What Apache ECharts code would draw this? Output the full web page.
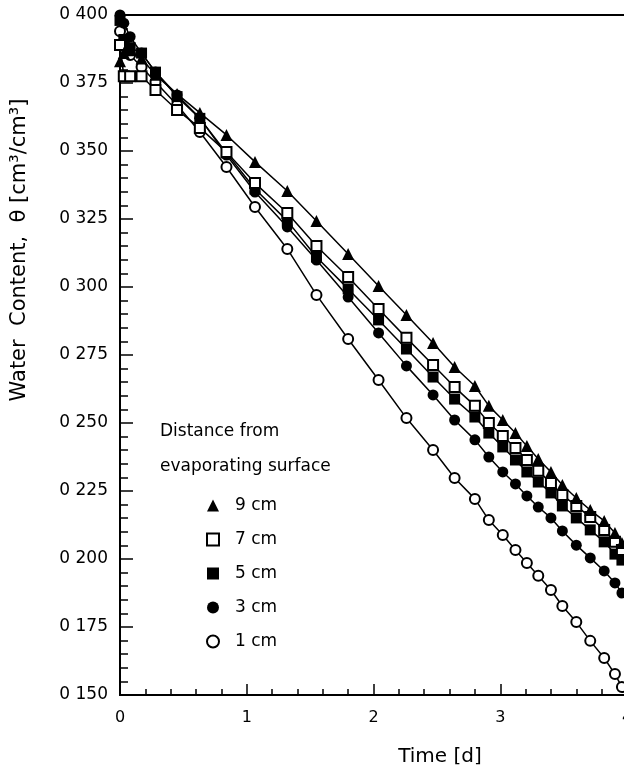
<!DOCTYPE html>
<html>
<head>
<meta charset="utf-8">
<script src="https://cdn.jsdelivr.net/npm/echarts@6/dist/echarts.min.js"></script>
<style>
  html, body { margin: 0; padding: 0; background: #fff; }
  #main { width: 624px; height: 768px; }
</style>
</head>
<body>
<div id="main"></div>
<script>
// sampling times [d], shared by all depths
var times = [0, 0.03, 0.08, 0.17, 0.28, 0.45, 0.63, 0.84, 1.065, 1.32, 1.55, 1.80, 2.04, 2.26, 2.47,
             2.64, 2.80, 2.91, 3.02, 3.12, 3.21, 3.30, 3.40, 3.49, 3.60, 3.71, 3.82, 3.905, 3.96];

// water content [cm3/cm3] at each distance from the evaporating surface
var w9cm = [0.383, 0.386, 0.387, 0.384, 0.378, 0.371, 0.364, 0.3559, 0.3460, 0.3353, 0.3243, 0.3121, 0.3004, 0.2897, 0.2794,
            0.2706, 0.2636, 0.2563, 0.2511, 0.2463, 0.2415, 0.2368, 0.2320, 0.2272, 0.2224, 0.2180, 0.2140, 0.2096, 0.2059];
var w7cm = [0.389, 0.3775, 0.3775, 0.3775, 0.3724, 0.3651, 0.3585, 0.3496, 0.3382, 0.3272, 0.3151, 0.3037, 0.2919, 0.2813, 0.2713,
            0.2632, 0.2563, 0.2500, 0.2452, 0.2408, 0.2364, 0.2324, 0.2279, 0.2235, 0.2195, 0.2154, 0.2107, 0.2063, 0.2033];
var w5cm = [0.398, 0.391, 0.388, 0.386, 0.379, 0.370, 0.362, 0.3493, 0.3360, 0.3243, 0.3110, 0.2993, 0.2879, 0.2772, 0.2669,
            0.2588, 0.2522, 0.2463, 0.2412, 0.2364, 0.2320, 0.2283, 0.2243, 0.2195, 0.2151, 0.2107, 0.2063, 0.2018, 0.1996];
var w3cm = [0.400, 0.397, 0.392, 0.386, 0.379, 0.3706, 0.3621, 0.3485, 0.3349, 0.3221, 0.3099, 0.2963, 0.2831, 0.2710, 0.2603,
            0.2511, 0.2438, 0.2375, 0.2320, 0.2276, 0.2232, 0.2191, 0.2151, 0.2103, 0.2051, 0.2004, 0.1956, 0.1912, 0.1875];
var w1cm = [0.394, 0.3897, 0.3853, 0.3809, 0.3754, 0.3669, 0.3570, 0.3441, 0.3294, 0.3140, 0.2971, 0.2809, 0.2658, 0.2518, 0.2401,
            0.2298, 0.2221, 0.2143, 0.2088, 0.2033, 0.1985, 0.1938, 0.1886, 0.1827, 0.1768, 0.1699, 0.1636, 0.1577, 0.1529];

var depthNames = ['9 cm', '7 cm', '5 cm', '3 cm', '1 cm'];
var FONT = '"DejaVu Sans", sans-serif';

//pair times with values
function toPairs(values) {
    var list = [];
    for (var i = 0; i < times.length; i++) {
        list.push([times[i], values[i]]);
    }
    return list;
}

//make one line series
function makeSeries(name, values, symbol, size, open) {
    return {
        name: name,
        type: 'line',
        data: toPairs(values),
        symbol: symbol,
        symbolSize: size,
        showAllSymbol: true,
        lineStyle: { color: '#000', width: 1.5 },
        itemStyle: open ? { color: '#fff', borderColor: '#000', borderWidth: 2 }
                        : { color: '#000', borderColor: '#000', borderWidth: 0 },
        emphasis: { disabled: true }
    };
}

var chart = echarts.init(document.getElementById('main'));

var option = {
    animation: false,
    backgroundColor: '#fff',
    grid: {
        left: 120, top: 15, bottom: 73, right: -3,
        outerBoundsMode: 'none', containLabel: false,
        show: true, borderColor: '#000', borderWidth: 1.8, backgroundColor: 'transparent'
    },
    xAxis: {
        type: 'value', min: 0, max: 4, interval: 1,
        axisLine: { lineStyle: { color: '#000', width: 1.5 } },
        axisTick: { inside: true, length: 11, lineStyle: { color: '#000', width: 1.5 } },
        minorTick: { show: true, splitNumber: 5, length: 6, lineStyle: { color: '#000', width: 1.5 } },
        splitLine: { show: false },
        axisLabel: { color: '#000', fontFamily: FONT, fontSize: 16, margin: 15 }
    },
    yAxis: {
        type: 'value', min: 0.15, max: 0.4, interval: 0.025,
        axisLine: { show: true, lineStyle: { color: '#000', width: 2 } },
        axisTick: { show: true, inside: true, length: 13, lineStyle: { color: '#000', width: 1.5 } },
        minorTick: { show: true, splitNumber: 5, length: 8, lineStyle: { color: '#000', width: 1.5 } },
        splitLine: { show: false },
        axisLabel: {
            color: '#000', fontFamily: FONT, fontSize: 17, margin: 12,
            formatter: function (v) { return '0 ' + Math.round(v * 1000); }
        }
    },
    legend: {
        orient: 'vertical',
        left: 201, top: 492,
        itemWidth: 12, itemHeight: 12, itemGap: 17,
        textStyle: { color: '#000', fontFamily: FONT, fontSize: 17, lineHeight: 16, padding: [0, 0, 0, 11] },
        data: [
            { name: '9 cm', icon: 'triangle' },
            { name: '7 cm', icon: 'rect', itemStyle: { color: '#fff', borderColor: '#000', borderWidth: 2 } },
            { name: '5 cm', icon: 'rect' },
            { name: '3 cm', icon: 'circle' },
            { name: '1 cm', icon: 'circle', itemStyle: { color: '#fff', borderColor: '#000', borderWidth: 2 } }
        ]
    },
    graphic: [
        {
            type: 'text', x: 160, y: 432,
            style: { text: 'Distance from', fill: '#000', font: '17px ' + FONT, verticalAlign: 'middle' }
        },
        {
            type: 'text', x: 160, y: 467,
            style: { text: 'evaporating surface', fill: '#000', font: '17px ' + FONT, verticalAlign: 'middle' }
        },
        {
            type: 'text', x: 440, y: 757,
            style: { text: 'Time [d]', fill: '#000', font: '20px ' + FONT, align: 'center', verticalAlign: 'middle' }
        },
        {
            type: 'text', x: 20, y: 250, rotation: Math.PI / 2,
            style: { text: 'Water  Content,  θ [cm³/cm³]', fill: '#000', font: '21px ' + FONT, align: 'center', verticalAlign: 'middle' }
        }
    ],
    series: [
        makeSeries(depthNames[4], w1cm, 'circle', 10, true),
        makeSeries(depthNames[3], w3cm, 'circle', 11, false),
        makeSeries(depthNames[2], w5cm, 'rect', 11, false),
        makeSeries(depthNames[1], w7cm, 'rect', 10, true),
        makeSeries(depthNames[0], w9cm, 'triangle', 12, false)
    ]
};

chart.setOption(option);
</script>
</body>
</html>
